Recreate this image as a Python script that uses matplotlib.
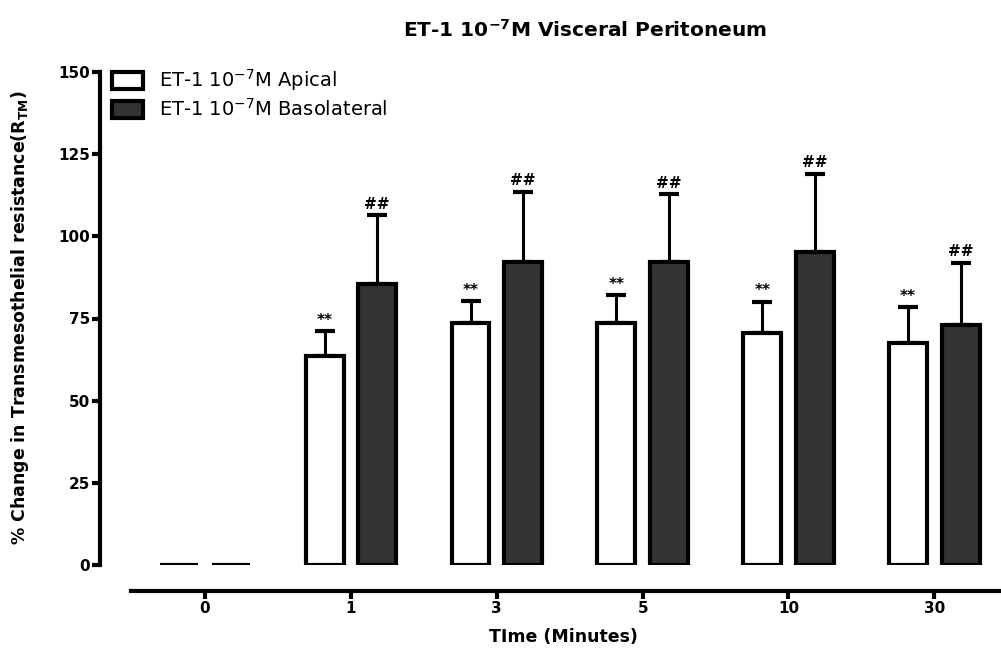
import numpy as np
import matplotlib.pyplot as plt

plt.rcParams['font.family'] = ['DejaVu Sans']

times = ['0', '1', '3', '5', '10', '30']
apical = [0, 63.5, 73.5, 73.5, 70.5, 67.5]
apical_err = [0, 7.7, 6.8, 8.5, 9.6, 11.0]
baso = [0, 85.5, 92.3, 92.1, 95.1, 73.0]
baso_err = [0, 21.0, 21.3, 20.7, 24.0, 19.0]
apical_marks = ['', '**', '**', '**', '**', '**']
baso_marks = ['', '##', '##', '##', '##', '##']

fig = plt.figure(figsize=(10.01, 6.56), dpi=100)
ax = fig.add_axes([100 / 1001, 91 / 656, 900 / 1001, 493 / 656])

x = np.arange(len(times))
w = 0.26
off = 0.18

ax.bar(x - off, apical, w, color='white', edgecolor='black', linewidth=3, zorder=3)
ax.bar(x + off, baso, w, color='#333333', edgecolor='black', linewidth=3, zorder=3)

for xs, vals, errs in [(x - off, apical, apical_err), (x + off, baso, baso_err)]:
    ax.errorbar(xs[1:], vals[1:], yerr=[np.zeros(len(vals) - 1), errs[1:]], fmt='none',
                ecolor='black', elinewidth=2.2, capsize=7.5, capthick=3, zorder=2)

for xs, vals, errs, marks in [(x - off, apical, apical_err, apical_marks),
                              (x + off, baso, baso_err, baso_marks)]:
    for xi, v, e, m in zip(xs, vals, errs, marks):
        if m:
            ax.text(xi, v + e + 1.0, m, ha='center', va='bottom', fontsize=11,
                    fontweight='bold')

ax.set_xlim(-0.72, 5.45)
ax.set_ylim(0, 150)
ax.set_yticks([0, 25, 50, 75, 100, 125, 150])
ax.set_xticks(x)
ax.set_xticklabels(times)

for s in ['top', 'right']:
    ax.spines[s].set_visible(False)
ax.spines['left'].set_linewidth(3)
ax.spines['bottom'].set_linewidth(3)
ax.spines['bottom'].set_position(('outward', 19))
ax.spines['bottom'].set_bounds(-0.51, 5.45)
ax.tick_params(axis='both', width=3, length=6, labelsize=11, pad=1)
for lab in ax.get_xticklabels() + ax.get_yticklabels():
    lab.set_fontweight('bold')

fig.text(563 / 1001, 1 - 637 / 656, 'TIme (Minutes)', ha='center', va='center',
         fontsize=12.5, fontweight='bold')
fig.text(20 / 1001, 1 - 318 / 656,
         '% Change in Transmesothelial resistance(R$_{\\mathbf{TM}}$)',
         rotation=90, ha='center', va='center', fontsize=12.5, fontweight='bold')
fig.text(585 / 1001, 1 - 30 / 656, 'ET-1 10$^{\\mathbf{-7}}$M Visceral Peritoneum',
         ha='center', va='center', fontsize=14.5, fontweight='bold')

ax.legend(['ET-1 10$^{-7}$M Apical', 'ET-1 10$^{-7}$M Basolateral'], loc='upper left',
          bbox_to_anchor=(0.005, 1.025), frameon=False, fontsize=14, handlelength=1.6,
          handleheight=0.95, handletextpad=0.8, labelspacing=0.25, borderaxespad=0)

fig.savefig('out.png', dpi=100)
